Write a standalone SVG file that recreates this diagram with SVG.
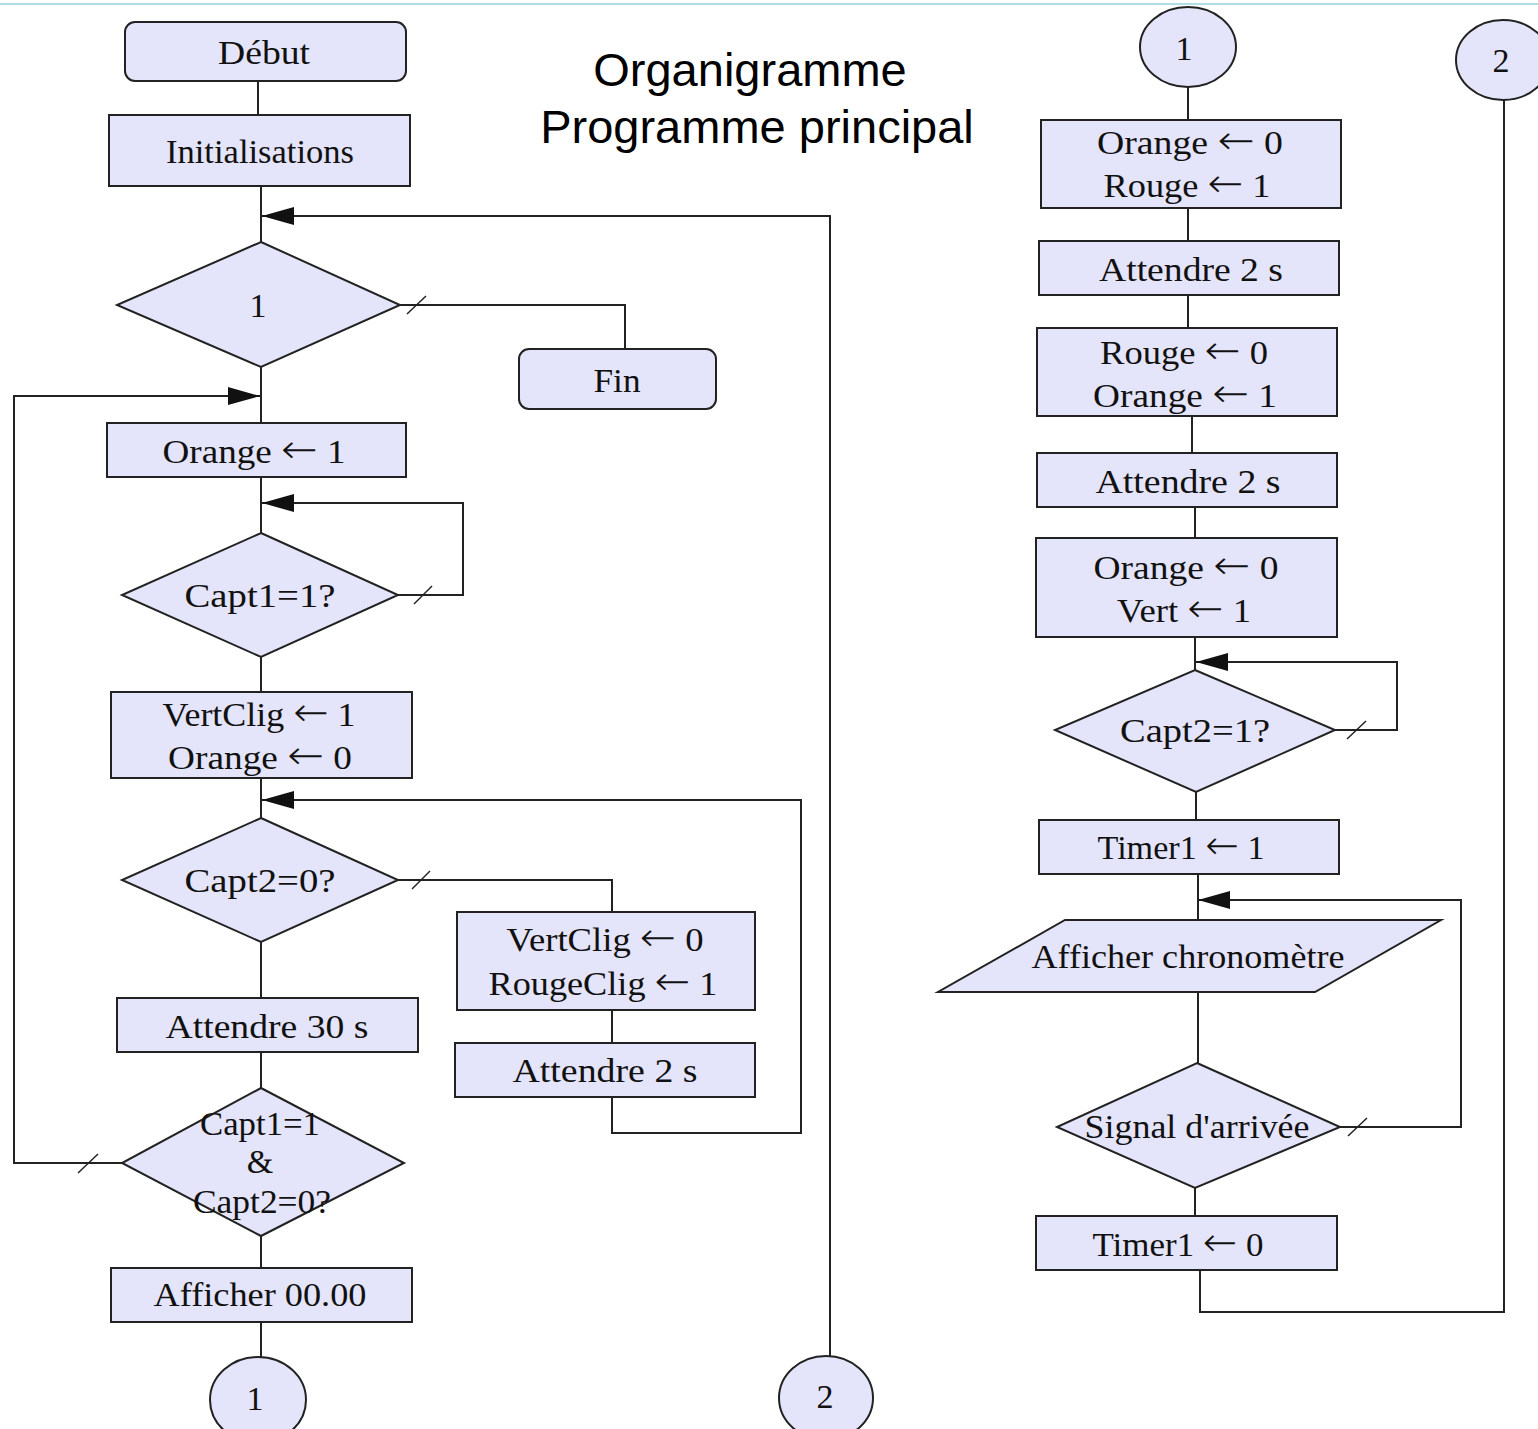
<svg xmlns="http://www.w3.org/2000/svg" width="1538" height="1429" viewBox="0 0 1538 1429">
<style>
.n{fill:#e4e4fa;stroke:#222;stroke-width:2}
.c{fill:none;stroke:#222;stroke-width:2}
.t{font-family:"Liberation Serif",serif;font-size:34px;fill:#111;text-anchor:middle}
.a{font-family:"DejaVu Sans",sans-serif;font-size:40px;font-weight:300}
.h{font-family:"Liberation Sans",Arial,sans-serif;font-size:47px;fill:#000;text-anchor:middle}
</style>
<defs>
<marker id="ah" viewBox="0 0 32 18" refX="32" refY="9" markerWidth="32" markerHeight="18" markerUnits="userSpaceOnUse" orient="auto">
<path d="M0,0 L32,9 L0,18 z" fill="#111"/>
</marker>
</defs>
<rect width="1538" height="1429" fill="#fff"/>
<line x1="0" y1="4" x2="1538" y2="4" stroke="#b0dce4" stroke-width="2"/>
<g id="title">
<text class="h" x="750" y="86">Organigramme</text>
<text class="h" x="757" y="143">Programme principal</text>
</g>
<g id="connectors">
<path class="c" d="M258,81 V115"/>
<path class="c" d="M261,186 V242"/>
<path class="c" d="M830,1356 V216 H262" marker-end="url(#ah)"/>
<path class="c" d="M400,305 H625 V349"/>
<path class="c" d="M261,367 V423"/>
<path class="c" d="M122,1163 H14 V396 H260" marker-end="url(#ah)"/>
<path class="c" d="M261,477 V533"/>
<path class="c" d="M398,595 H463 V503 H262" marker-end="url(#ah)"/>
<path class="c" d="M261,657 V692"/>
<path class="c" d="M261,778 V818"/>
<path class="c" d="M398,880 H612 V912"/>
<path class="c" d="M612,1010 V1043"/>
<path class="c" d="M612,1097 V1133 H801 V800 H262" marker-end="url(#ah)"/>
<path class="c" d="M261,942 V998"/>
<path class="c" d="M261,1052 V1088"/>
<path class="c" d="M261,1236 V1268"/>
<path class="c" d="M261,1322 V1357"/>
<path class="c" d="M1188,87 V120"/>
<path class="c" d="M1188,208 V241"/>
<path class="c" d="M1188,295 V328"/>
<path class="c" d="M1192,416 V453"/>
<path class="c" d="M1195,507 V538"/>
<path class="c" d="M1195,637 V670"/>
<path class="c" d="M1335,730 H1397 V662 H1196" marker-end="url(#ah)"/>
<path class="c" d="M1196,792 V820"/>
<path class="c" d="M1198,874 V920"/>
<path class="c" d="M1198,992 V1063"/>
<path class="c" d="M1340,1127 H1461 V900 H1198" marker-end="url(#ah)"/>
<path class="c" d="M1195,1188 V1216"/>
<path class="c" d="M1200,1270 V1312 H1504 V100"/>
<g stroke="#222" stroke-width="1.5">
<line x1="407" y1="314" x2="426" y2="296"/>
<line x1="414" y1="604" x2="432" y2="586"/>
<line x1="412" y1="889" x2="430" y2="871"/>
<line x1="78" y1="1173" x2="98" y2="1154"/>
<line x1="1347" y1="739" x2="1366" y2="721"/>
<line x1="1348" y1="1136" x2="1367" y2="1118"/>
</g>
</g>
<g id="debut"><rect class="n" x="125" y="22" width="281" height="59" rx="10"/><text class="t" x="264" y="64" textLength="92" lengthAdjust="spacingAndGlyphs">Début</text></g>
<g id="init"><rect class="n" x="109" y="115" width="301" height="71"/><text class="t" x="260" y="163" textLength="188" lengthAdjust="spacingAndGlyphs">Initialisations</text></g>
<g id="d1"><polygon class="n" points="261,242 400,305 261,367 117,305"/><text class="t" x="258" y="317">1</text></g>
<g id="fin"><rect class="n" x="519" y="349" width="197" height="60" rx="10"/><text class="t" x="617" y="392" textLength="47" lengthAdjust="spacingAndGlyphs">Fin</text></g>
<g id="orange1"><rect class="n" x="107" y="423" width="299" height="54"/><text class="t" x="254" y="463" textLength="183" lengthAdjust="spacingAndGlyphs">Orange <tspan class="a">←</tspan> 1</text></g>
<g id="capt1"><polygon class="n" points="261,533 398,595 261,657 122,595"/><text class="t" x="260" y="607" textLength="151" lengthAdjust="spacingAndGlyphs">Capt1=1?</text></g>
<g id="vertclig1"><rect class="n" x="111" y="692" width="301" height="86"/><text class="t" x="259" y="726" textLength="193" lengthAdjust="spacingAndGlyphs">VertClig <tspan class="a">←</tspan> 1</text><text class="t" x="260" y="769" textLength="184" lengthAdjust="spacingAndGlyphs">Orange <tspan class="a">←</tspan> 0</text></g>
<g id="capt2_0"><polygon class="n" points="261,818 398,880 261,942 122,880"/><text class="t" x="260" y="892" textLength="151" lengthAdjust="spacingAndGlyphs">Capt2=0?</text></g>
<g id="vertclig0"><rect class="n" x="457" y="912" width="298" height="98"/><text class="t" x="605" y="951" textLength="197" lengthAdjust="spacingAndGlyphs">VertClig <tspan class="a">←</tspan> 0</text><text class="t" x="603" y="995" textLength="229" lengthAdjust="spacingAndGlyphs">RougeClig <tspan class="a">←</tspan> 1</text></g>
<g id="attendre2a"><rect class="n" x="455" y="1043" width="300" height="54"/><text class="t" x="605" y="1082" textLength="185" lengthAdjust="spacingAndGlyphs">Attendre 2 s</text></g>
<g id="attendre30"><rect class="n" x="117" y="998" width="301" height="54"/><text class="t" x="267" y="1038" textLength="203" lengthAdjust="spacingAndGlyphs">Attendre 30 s</text></g>
<g id="capt12"><polygon class="n" points="261,1088 404,1163 261,1236 122,1163"/><text class="t" x="260" y="1135" textLength="120" lengthAdjust="spacingAndGlyphs">Capt1=1</text><text class="t" x="260" y="1173">&amp;</text><text class="t" x="262" y="1213" textLength="138" lengthAdjust="spacingAndGlyphs">Capt2=0?</text></g>
<g id="afficher"><rect class="n" x="111" y="1268" width="301" height="54"/><text class="t" x="260" y="1306" textLength="213" lengthAdjust="spacingAndGlyphs">Afficher 00.00</text></g>
<g id="c1b"><ellipse class="n" cx="258" cy="1400" rx="48" ry="43"/><text class="t" x="255" y="1410">1</text></g>
<g id="c2b"><ellipse class="n" cx="826" cy="1398" rx="47" ry="42"/><text class="t" x="825" y="1408">2</text></g>
<g id="c1t"><ellipse class="n" cx="1188" cy="47" rx="48" ry="40"/><text class="t" x="1184" y="60">1</text></g>
<g id="c2t"><ellipse class="n" cx="1503" cy="60" rx="47" ry="40"/><text class="t" x="1501" y="72">2</text></g>
<g id="r1"><rect class="n" x="1041" y="120" width="300" height="88"/><text class="t" x="1190" y="154" textLength="186" lengthAdjust="spacingAndGlyphs">Orange <tspan class="a">←</tspan> 0</text><text class="t" x="1187" y="197" textLength="167" lengthAdjust="spacingAndGlyphs">Rouge <tspan class="a">←</tspan> 1</text></g>
<g id="r2"><rect class="n" x="1039" y="241" width="300" height="54"/><text class="t" x="1191" y="281" textLength="184" lengthAdjust="spacingAndGlyphs">Attendre 2 s</text></g>
<g id="r3"><rect class="n" x="1037" y="328" width="300" height="88"/><text class="t" x="1184" y="364" textLength="168" lengthAdjust="spacingAndGlyphs">Rouge <tspan class="a">←</tspan> 0</text><text class="t" x="1185" y="407" textLength="184" lengthAdjust="spacingAndGlyphs">Orange <tspan class="a">←</tspan> 1</text></g>
<g id="r4"><rect class="n" x="1037" y="453" width="300" height="54"/><text class="t" x="1188" y="493" textLength="185" lengthAdjust="spacingAndGlyphs">Attendre 2 s</text></g>
<g id="r5"><rect class="n" x="1036" y="538" width="301" height="99"/><text class="t" x="1186" y="579" textLength="185" lengthAdjust="spacingAndGlyphs">Orange <tspan class="a">←</tspan> 0</text><text class="t" x="1184" y="622" textLength="134" lengthAdjust="spacingAndGlyphs">Vert <tspan class="a">←</tspan> 1</text></g>
<g id="capt2_1"><polygon class="n" points="1195,670 1335,730 1196,792 1055,730"/><text class="t" x="1195" y="742" textLength="150" lengthAdjust="spacingAndGlyphs">Capt2=1?</text></g>
<g id="timer1"><rect class="n" x="1039" y="820" width="300" height="54"/><text class="t" x="1181" y="859" textLength="167" lengthAdjust="spacingAndGlyphs">Timer1 <tspan class="a">←</tspan> 1</text></g>
<g id="chrono"><polygon class="n" points="1065,920 1441,920 1315,992 938,992"/><text class="t" x="1188" y="968" textLength="313" lengthAdjust="spacingAndGlyphs">Afficher chronomètre</text></g>
<g id="signal"><polygon class="n" points="1197,1063 1340,1127 1195,1188 1057,1127"/><text class="t" x="1197" y="1138" textLength="225" lengthAdjust="spacingAndGlyphs">Signal d'arrivée</text></g>
<g id="timer0"><rect class="n" x="1036" y="1216" width="301" height="54"/><text class="t" x="1178" y="1256" textLength="171" lengthAdjust="spacingAndGlyphs">Timer1 <tspan class="a">←</tspan> 0</text></g>
</svg>
